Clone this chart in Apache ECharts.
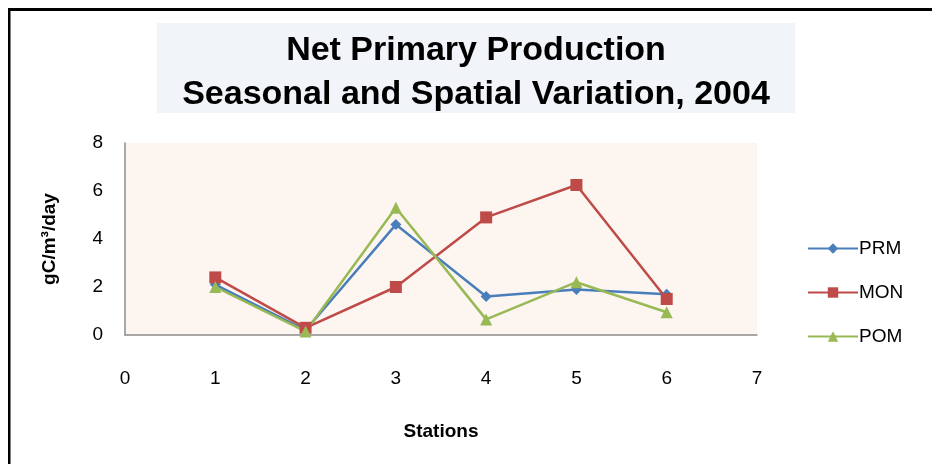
<!DOCTYPE html>
<html>
<head>
<meta charset="utf-8">
<script src="https://cdn.jsdelivr.net/npm/echarts@6/dist/echarts.min.js"></script>
<style>html,body{margin:0;padding:0;background:#fff;}#c{width:932px;height:464px;}</style>
</head>
<body>
<div id="c"></div>
<script>
const stations = [1, 2, 3, 4, 5, 6];
const prm = [2.1, 0.2, 4.6, 1.6, 1.9, 1.7];
const mon = [2.4, 0.3, 2.0, 4.9, 6.25, 1.5];
const pom = [2.0, 0.15, 5.3, 0.65, 2.2, 0.95];
const seriesNames = ['PRM', 'MON', 'POM'];
const titleLines = ['Net Primary Production', 'Seasonal and Spatial Variation, 2004'];

const chart = echarts.init(document.getElementById('c'));
const font = '"Liberation Sans", Arial, sans-serif';
const pair = (vals) => stations.map((s, i) => [s, vals[i]]);
const colors = ['#4a7ebb', '#be4b48', '#98b954'];
const symbols = ['diamond', 'rect', 'triangle'];
const sizes = [11, 12, 12];
const all = [prm, mon, pom];

chart.setOption({
  animation: false,
  backgroundColor: '#ffffff',
  graphic: [
    { type: 'rect', shape: { x: 157, y: 23, width: 638, height: 90 }, style: { fill: '#f1f5f9' }, z: -1 },
    { type: 'rect', shape: { x: 8, y: 8, width: 924, height: 3 }, style: { fill: '#000' } },
    { type: 'rect', shape: { x: 8, y: 8, width: 2.5, height: 456 }, style: { fill: '#000' } }
  ],
  title: {
    text: titleLines.join('\n'),
    left: 476, top: 29, textAlign: 'center', padding: 0,
    textStyle: { fontFamily: font, fontSize: 34, fontWeight: 'bold', color: '#000', lineHeight: 44 }
  },
  legend: {
    orient: 'vertical', left: 802, top: 234, itemGap: 25,
    itemWidth: 50, itemHeight: 13,
    data: seriesNames,
    textStyle: { fontFamily: font, fontSize: 19, color: '#000', padding: [0, 0, 0, -4] }
  },
  grid: { left: 125, right: 175, top: 143, bottom: 129, show: true, backgroundColor: '#fcf5f0', borderWidth: 0 },
  xAxis: {
    type: 'value', min: 0, max: 7, interval: 1,
    name: 'Stations', nameLocation: 'middle', nameGap: 87,
    nameTextStyle: { fontFamily: font, fontSize: 19, fontWeight: 'bold', color: '#000' },
    axisLine: { show: true, lineStyle: { color: '#8c8c8c', width: 1.5 } },
    axisTick: { show: false },
    splitLine: { show: false },
    axisLabel: { margin: 34, fontFamily: font, fontSize: 19, color: '#000' }
  },
  yAxis: {
    type: 'value', min: 0, max: 8, interval: 2,
    name: 'gC/m³/day', nameLocation: 'middle', nameGap: 66, nameRotate: 90,
    nameTextStyle: { fontFamily: font, fontSize: 19, fontWeight: 'bold', color: '#000' },
    axisLine: { show: true, lineStyle: { color: '#8c8c8c', width: 1.5 } },
    axisTick: { show: false },
    splitLine: { show: false },
    axisLabel: { margin: 22, fontFamily: font, fontSize: 19, color: '#000' }
  },
  series: seriesNames.map((n, k) => ({
    name: n, type: 'line', data: pair(all[k]),
    symbol: symbols[k], symbolSize: sizes[k], showSymbol: true,
    itemStyle: { color: colors[k] },
    lineStyle: { color: colors[k], width: 2.5 }
  }))
});
</script>
</body>
</html>
